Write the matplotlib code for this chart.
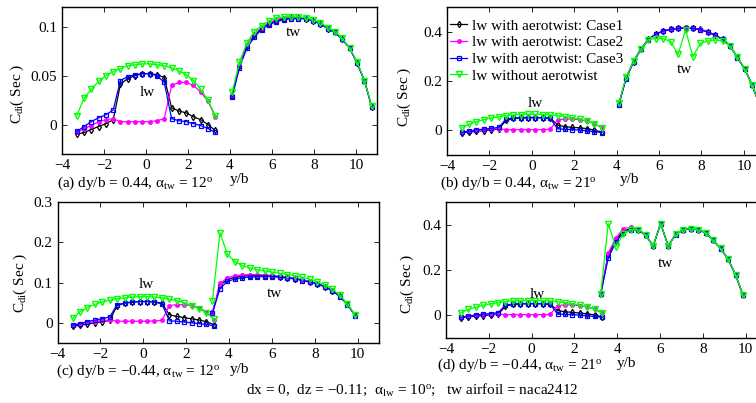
import matplotlib
matplotlib.use("Agg")
import matplotlib.pyplot as plt

plt.rcParams["font.family"] = ["Liberation Serif", "DejaVu Serif"]
plt.rcParams["font.size"] = 11
plt.rcParams["mathtext.fontset"] = "custom"
plt.rcParams["mathtext.rm"] = "Liberation Serif"
plt.rcParams["mathtext.it"] = "Liberation Serif:italic"

# span positions y/b
lw_x = [-3.30, -2.95, -2.61, -2.26, -1.91, -1.56, -1.22, -0.87, -0.52, -0.17,
        0.17, 0.52, 0.87, 1.22, 1.56, 1.91, 2.26, 2.61, 2.95, 3.30]
tw_x_up = [4.10, 4.45, 4.80, 5.15, 5.50, 5.85, 6.20, 6.55, 6.90, 7.25,
           7.60, 7.95, 8.30, 8.65, 9.00, 9.35, 9.70, 10.05, 10.40, 10.75]
tw_x_dn = [3.23, 3.58, 3.93, 4.28, 4.63, 4.98, 5.33, 5.68, 6.03, 6.38,
           6.73, 7.08, 7.43, 7.78, 8.13, 8.48, 8.83, 9.18, 9.53, 9.88]

# (a) dy/b = 0.44, alpha_tw = 12
a_lw_c1 = [-0.010, -0.008, -0.005, -0.002, 0.001, 0.005, 0.041, 0.047, 0.050, 0.052,
           0.052, 0.051, 0.048, 0.017, 0.014, 0.012, 0.008, 0.005, 0.000, -0.006]
a_lw_c2 = [-0.008, -0.004, -0.001, 0.003, 0.005, 0.006, 0.003, 0.003, 0.003, 0.003,
           0.003, 0.004, 0.006, 0.040, 0.043, 0.043, 0.040, 0.033, 0.024, 0.008]
a_lw_c3 = [-0.007, -0.002, 0.003, 0.007, 0.010, 0.015, 0.045, 0.049, 0.051, 0.052,
           0.052, 0.050, 0.043, 0.006, 0.004, 0.003, 0.001, -0.001, -0.004, -0.008]
a_lw_no = [0.009, 0.027, 0.036, 0.044, 0.050, 0.054, 0.057, 0.060, 0.061, 0.062,
           0.062, 0.061, 0.060, 0.058, 0.055, 0.051, 0.045, 0.036, 0.025, 0.009]
a_tw_c1 = [0.029, 0.060, 0.080, 0.091, 0.098, 0.103, 0.106, 0.108, 0.109, 0.109,
           0.108, 0.106, 0.103, 0.098, 0.094, 0.087, 0.078, 0.063, 0.045, 0.018]
a_tw_c2 = [0.030, 0.061, 0.081, 0.092, 0.099, 0.104, 0.107, 0.109, 0.109, 0.109,
           0.108, 0.106, 0.103, 0.099, 0.094, 0.087, 0.078, 0.063, 0.045, 0.018]
a_tw_c3 = [0.028, 0.058, 0.078, 0.089, 0.097, 0.102, 0.105, 0.107, 0.108, 0.108,
           0.108, 0.106, 0.103, 0.098, 0.094, 0.087, 0.078, 0.063, 0.045, 0.018]
a_tw_no = [0.033, 0.064, 0.083, 0.095, 0.101, 0.106, 0.109, 0.110, 0.110, 0.110,
           0.109, 0.107, 0.104, 0.099, 0.095, 0.088, 0.078, 0.064, 0.045, 0.019]

# (b) dy/b = 0.44, alpha_tw = 21
b_lw_c1 = [-0.010, -0.007, -0.004, -0.001, 0.002, 0.005, 0.040, 0.048, 0.050, 0.051,
           0.051, 0.051, 0.050, 0.021, 0.015, 0.012, 0.010, 0.007, 0.001, -0.007]
b_lw_c2 = [-0.008, -0.004, 0.000, 0.003, 0.005, 0.006, 0.003, 0.003, 0.003, 0.003,
           0.003, 0.003, 0.004, 0.043, 0.046, 0.046, 0.043, 0.037, 0.027, 0.010]
b_lw_c3 = [-0.008, -0.003, 0.002, 0.005, 0.008, 0.012, 0.045, 0.050, 0.052, 0.052,
           0.052, 0.051, 0.048, 0.006, 0.004, 0.003, 0.001, -0.002, -0.005, -0.009]
b_lw_no = [0.011, 0.025, 0.035, 0.043, 0.050, 0.055, 0.059, 0.062, 0.064, 0.065,
           0.065, 0.064, 0.062, 0.060, 0.056, 0.051, 0.045, 0.037, 0.027, 0.011]
b_tw_c1 = [0.105, 0.212, 0.279, 0.330, 0.369, 0.390, 0.402, 0.409, 0.413, 0.416,
           0.414, 0.409, 0.399, 0.386, 0.369, 0.342, 0.296, 0.248, 0.183, 0.100]
b_tw_c2 = [0.106, 0.214, 0.281, 0.332, 0.370, 0.391, 0.403, 0.410, 0.414, 0.417,
           0.414, 0.409, 0.399, 0.386, 0.369, 0.342, 0.296, 0.248, 0.183, 0.100]
b_tw_c3 = [0.104, 0.210, 0.277, 0.328, 0.368, 0.390, 0.403, 0.409, 0.413, 0.416,
           0.413, 0.408, 0.398, 0.386, 0.369, 0.342, 0.295, 0.247, 0.182, 0.100]
b_tw_no = [0.110, 0.215, 0.281, 0.330, 0.368, 0.372, 0.372, 0.360, 0.308, 0.407,
           0.299, 0.353, 0.362, 0.367, 0.362, 0.342, 0.296, 0.248, 0.183, 0.100]

# (c) dy/b = -0.44, alpha_tw = 12
c_lw_c1 = [-0.008, -0.006, -0.003, 0.000, 0.003, 0.006, 0.043, 0.049, 0.051, 0.053,
           0.053, 0.052, 0.049, 0.020, 0.016, 0.013, 0.010, 0.007, 0.003, -0.005]
c_lw_c2 = [-0.006, -0.002, 0.001, 0.003, 0.006, 0.007, 0.004, 0.004, 0.004, 0.004,
           0.004, 0.005, 0.006, 0.043, 0.045, 0.045, 0.043, 0.037, 0.027, 0.008]
c_lw_c3 = [-0.006, -0.002, 0.003, 0.007, 0.010, 0.015, 0.045, 0.049, 0.052, 0.053,
           0.053, 0.052, 0.047, 0.005, 0.004, 0.002, 0.000, -0.002, -0.004, -0.007]
c_lw_no = [0.011, 0.028, 0.038, 0.046, 0.052, 0.056, 0.060, 0.062, 0.064, 0.065,
           0.065, 0.064, 0.062, 0.059, 0.055, 0.050, 0.043, 0.035, 0.024, 0.010]
c_tw_c1 = [0.025, 0.093, 0.108, 0.113, 0.116, 0.117, 0.117, 0.117, 0.116, 0.114,
           0.112, 0.110, 0.106, 0.102, 0.097, 0.090, 0.080, 0.066, 0.046, 0.019]
c_tw_c2 = [0.027, 0.098, 0.112, 0.117, 0.119, 0.120, 0.120, 0.119, 0.118, 0.116,
           0.114, 0.111, 0.107, 0.103, 0.097, 0.090, 0.080, 0.066, 0.046, 0.019]
c_tw_c3 = [0.024, 0.085, 0.103, 0.109, 0.112, 0.114, 0.115, 0.115, 0.115, 0.113,
           0.111, 0.109, 0.105, 0.101, 0.096, 0.089, 0.079, 0.065, 0.045, 0.018]
c_tw_no = [0.055, 0.224, 0.170, 0.152, 0.142, 0.136, 0.132, 0.129, 0.126, 0.123,
           0.120, 0.117, 0.113, 0.108, 0.102, 0.094, 0.084, 0.068, 0.047, 0.020]

# (d) dy/b = -0.44, alpha_tw = 21
d_lw_c1 = [-0.010, -0.007, -0.004, -0.001, 0.002, 0.005, 0.041, 0.048, 0.050, 0.051,
           0.051, 0.051, 0.049, 0.021, 0.016, 0.013, 0.010, 0.007, 0.001, -0.007]
d_lw_c2 = [-0.008, -0.004, 0.000, 0.003, 0.005, 0.006, 0.003, 0.003, 0.003, 0.003,
           0.003, 0.003, 0.004, 0.043, 0.046, 0.046, 0.043, 0.037, 0.027, 0.010]
d_lw_c3 = [-0.008, -0.003, 0.002, 0.005, 0.008, 0.012, 0.045, 0.050, 0.052, 0.052,
           0.052, 0.051, 0.048, 0.006, 0.004, 0.003, 0.001, -0.002, -0.005, -0.009]
d_lw_no = [0.012, 0.026, 0.036, 0.044, 0.051, 0.056, 0.060, 0.063, 0.064, 0.065,
           0.065, 0.064, 0.063, 0.060, 0.056, 0.051, 0.045, 0.037, 0.027, 0.012]
d_tw_c1 = [0.095, 0.266, 0.330, 0.372, 0.382, 0.378, 0.354, 0.307, 0.405, 0.307,
           0.357, 0.378, 0.383, 0.378, 0.365, 0.332, 0.295, 0.249, 0.179, 0.089]
d_tw_c2 = [0.095, 0.274, 0.340, 0.383, 0.388, 0.381, 0.355, 0.307, 0.405, 0.307,
           0.357, 0.378, 0.383, 0.378, 0.365, 0.332, 0.295, 0.249, 0.179, 0.089]
d_tw_c3 = [0.094, 0.252, 0.322, 0.365, 0.377, 0.376, 0.353, 0.306, 0.404, 0.306,
           0.356, 0.377, 0.382, 0.377, 0.364, 0.331, 0.294, 0.248, 0.178, 0.088]
d_tw_no = [0.095, 0.405, 0.303, 0.357, 0.378, 0.378, 0.354, 0.307, 0.405, 0.307,
           0.357, 0.378, 0.383, 0.378, 0.365, 0.332, 0.295, 0.249, 0.179, 0.089]

labels = ["lw with aerotwist: Case1", "lw with aerotwist: Case2",
          "lw with aerotwist: Case3", "lw without aerotwist"]
styles = [dict(color="k", marker="d", ms=3.2, mfc="none", mew=0.9),
          dict(color="#ff00ff", marker=".", ms=5),
          dict(color="#0000ff", marker="s", ms=3.2, mfc="none", mew=0.9),
          dict(color="#00ff00", marker="v", ms=4.2, mfc="none", mew=1.0)]

W, H = 756, 403
fig = plt.figure(figsize=(W / 100, H / 100), dpi=100)


def px_axes(left, top, right, bottom):
    return fig.add_axes([left / W, 1 - bottom / H, (right - left) / W, (bottom - top) / H])


panels = [
    dict(box=(62, 7, 377, 154), ylim=(-0.03, 0.12), yticks=[0, 0.05, 0.1],
         ytl=["0", "0.05", "0.1"], twx=tw_x_up,
         lw=[a_lw_c1, a_lw_c2, a_lw_c3, a_lw_no], tw=[a_tw_c1, a_tw_c2, a_tw_c3, a_tw_no],
         lwtxt=(0.05, 0.033), twtxt=(7.0, 0.094), ylab=(-0.143, 0.41)),
    dict(box=(447, 7, 765, 155), ylim=(-0.1, 0.5), yticks=[0, 0.2, 0.4],
         ytl=["0", "0.2", "0.4"], twx=tw_x_up,
         lw=[b_lw_c1, b_lw_c2, b_lw_c3, b_lw_no], tw=[b_tw_c1, b_tw_c2, b_tw_c3, b_tw_no],
         lwtxt=(0.15, 0.11), twtxt=(7.2, 0.245), ylab=(-0.133, 0.395)),
    dict(box=(57.5, 202, 379, 343), ylim=(-0.05, 0.3), yticks=[0, 0.1, 0.2, 0.3],
         ytl=["0", "0.1", "0.2", "0.3"], twx=tw_x_dn,
         lw=[c_lw_c1, c_lw_c2, c_lw_c3, c_lw_no], tw=[c_tw_c1, c_tw_c2, c_tw_c3, c_tw_no],
         lwtxt=(0.15, 0.095), twtxt=(6.1, 0.072), ylab=(-0.117, 0.425)),
    dict(box=(446, 202, 767, 338), ylim=(-0.1, 0.5), yticks=[0, 0.2, 0.4],
         ytl=["0", "0.2", "0.4"], twx=tw_x_dn,
         lw=[d_lw_c1, d_lw_c2, d_lw_c3, d_lw_no], tw=[d_tw_c1, d_tw_c2, d_tw_c3, d_tw_no],
         lwtxt=(0.28, 0.092), twtxt=(6.25, 0.23), ylab=(-0.122, 0.40)),
]

axes = []
for p in panels:
    ax = px_axes(*p["box"])
    for i in range(4):
        ax.plot(lw_x, p["lw"][i], lw=0.9, label=labels[i], **styles[i])
        ax.plot(p["twx"], p["tw"][i], lw=0.9, **styles[i])
    ax.set_xlim(-4, 11)
    ax.set_ylim(*p["ylim"])
    ax.set_xticks([-4, -2, 0, 2, 4, 6, 8, 10])
    ax.set_xticklabels(["\u22124", "\u22122", "0", "2", "4", "6", "8", "10"])
    ax.set_yticks(p["yticks"])
    ax.set_yticklabels(p["ytl"])
    ax.tick_params(direction="in", top=True, right=True, length=3.5, width=0.6,
                   labelsize=11, pad=3.5)
    for s in ax.spines.values():
        s.set_linewidth(1.0)
    ax.text(*p["lwtxt"], "lw", ha="center", va="center", fontsize=11)
    ax.text(*p["twtxt"], "tw", ha="center", va="center", fontsize=11)
    ax.text(p["ylab"][0], p["ylab"][1], r"C$_{\mathrm{di}}$( Sec )", transform=ax.transAxes,
            rotation=90, ha="center", va="center", fontsize=11)
    axes.append(ax)

axes[1].legend(loc="upper left", bbox_to_anchor=(0.01, 0.92), frameon=False,
               handlelength=1.1, handletextpad=0.3, labelspacing=0.2,
               borderaxespad=0, borderpad=0, numpoints=1, fontsize=11)

captions = [
    (135, 183, r"(a) dy/b = 0.44, $\mathrm{\alpha}_{\mathrm{tw}}$ = 12$^{\mathrm{o}}$"),
    (518, 183, r"(b) dy/b = 0.44, $\mathrm{\alpha}_{\mathrm{tw}}$ = 21$^{\mathrm{o}}$"),
    (138, 371, r"(c) dy/b = $-$0.44, $\mathrm{\alpha}_{\mathrm{tw}}$ = 12$^{\mathrm{o}}$"),
    (520, 365, r"(d) dy/b = $-$0.44, $\mathrm{\alpha}_{\mathrm{tw}}$ = 21$^{\mathrm{o}}$"),
]
for x, y, t in captions:
    fig.text(x / W, 1 - y / H, t, ha="center", va="center", fontsize=11)

for x, y in [(240, 180), (630, 180), (240, 369), (627, 364)]:
    fig.text(x / W, 1 - y / H, "y/b", ha="center", va="center", fontsize=11)

fig.text(412 / W, 1 - 390 / H,
         r"dx = 0,  dz = $-$0.11;  $\mathrm{\alpha}_{\mathrm{lw}}$ = 10$^{\mathrm{o}}$;   tw airfoil = naca2412",
         ha="center", va="center", fontsize=11)

fig.savefig("out.png", dpi=100)
